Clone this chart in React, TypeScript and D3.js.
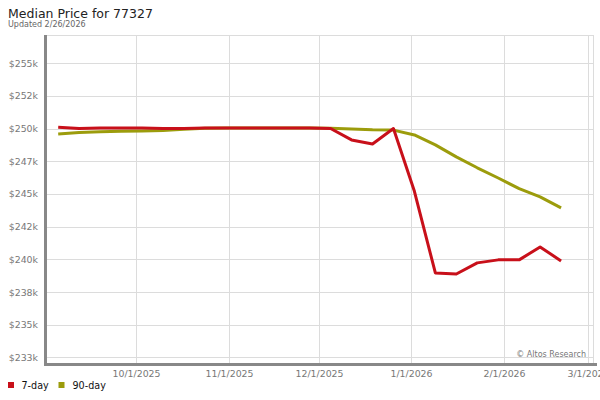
import React from "react";
import * as d3 from "d3";

const dates: string[] = [
  "2025-09-05", "2025-09-12", "2025-09-19", "2025-09-26", "2025-10-03",
  "2025-10-10", "2025-10-17", "2025-10-24", "2025-10-31", "2025-11-07",
  "2025-11-14", "2025-11-21", "2025-11-28", "2025-12-05", "2025-12-12",
  "2025-12-19", "2025-12-26", "2026-01-02", "2026-01-09", "2026-01-16",
  "2026-01-23", "2026-01-30", "2026-02-06", "2026-02-13", "2026-02-20",
];

const sevenDay: number[] = [
  250100, 250000, 250050, 250050, 250050, 250000, 250000, 250050, 250050, 250050,
  250050, 250050, 250050, 250000, 249130, 248820, 250000, 245200, 238960, 238880,
  239730, 239960, 239960, 240950, 239880,
];

const ninetyDay: number[] = [
  249590, 249700, 249760, 249800, 249820, 249850, 249950, 250020, 250050, 250050,
  250050, 250050, 250050, 250030, 249970, 249900, 249880, 249510, 248750, 247830,
  247000, 246220, 245400, 244770, 243930,
];

const yTickValues: number[] = [255000, 252500, 250000, 247500, 245000, 242500, 240000, 237500, 235000, 232500];
const yTickLabels: string[] = ["$255k", "$252k", "$250k", "$247k", "$245k", "$242k", "$240k", "$238k", "$235k", "$233k"];

const xTickDates: string[] = ["2025-10-01", "2025-11-01", "2025-12-01", "2026-01-01", "2026-02-01", "2026-03-01"];
const xTickLabels: string[] = ["10/1/2025", "11/1/2025", "12/1/2025", "1/1/2026", "2/1/2026", "3/1/2026"];

const parse = (s: string) => {
  const [y, m, d] = s.split("-").map(Number);
  return new Date(y, m - 1, d);
};

const RED = "#c8101a";
const OLIVE = "#9c9c0c";
const FONT = "'DejaVu Sans', Verdana, sans-serif";

export default function App() {
  const W = 600, H = 400;
  const left = 47, right = 593, top = 35, bottom = 364;

  const x = d3
    .scaleTime()
    .domain([new Date(2025, 8, 1, 6, 14), new Date(2026, 2, 2, 16, 0)])
    .range([left, right]);
  const y = d3.scaleLinear().domain([232000, 257150]).range([bottom, top]);

  const pts = dates.map(parse);
  const line = d3
    .line<number>()
    .x((_, i) => x(pts[i]))
    .y((v) => y(v));

  return (
    <svg width={W} height={H} style={{ position: "absolute", left: 0, top: 0, background: "#fff" }} fontFamily={FONT}>
      <rect x={0} y={0} width={W} height={H} fill="#fff" />
      <text x={8} y={18.3} fontSize={12.5} fill="#222">Median Price for 77327</text>
      <text x={8} y={26.5} fontSize={8} fill="#666">Updated 2/26/2026</text>

      {/* frame */}
      <line x1={left} x2={right} y1={top + 0.5} y2={top + 0.5} stroke="#dcdcdc" />
      <line x1={right + 0.5} x2={right + 0.5} y1={top} y2={bottom} stroke="#dcdcdc" />

      {/* horizontal grid */}
      {yTickValues.map((v, i) => (
        <g key={"y" + i}>
          <line x1={left} x2={right} y1={Math.round(y(v)) + 0.5} y2={Math.round(y(v)) + 0.5} stroke="#dcdcdc" />
          <text x={38} y={y(v) + 3.5} fontSize={9.4} fill="#777" textAnchor="end">{yTickLabels[i]}</text>
        </g>
      ))}

      {/* vertical grid */}
      {xTickDates.map((d, i) => {
        const xx = Math.round(x(parse(d))) + 0.5;
        return (
          <g key={"x" + i}>
            <line x1={xx} x2={xx} y1={top} y2={bottom} stroke="#dcdcdc" />
            <text x={xx} y={377} fontSize={9.4} fill="#777" textAnchor="middle">{xTickLabels[i]}</text>
          </g>
        );
      })}

      <text x={586} y={356.5} fontSize={8} fill="#777" textAnchor="end">© Altos Research</text>

      {/* axes */}
      <line x1={45.5} x2={45.5} y1={top} y2={bottom + 1.5} stroke="#888" strokeWidth={3} />
      <line x1={44} x2={597} y1={bottom + 0.5} y2={bottom + 0.5} stroke="#888" strokeWidth={3} />

      {/* series */}
      <path d={line(ninetyDay) || ""} fill="none" stroke={OLIVE} strokeWidth={3} strokeLinejoin="round" />
      <path d={line(sevenDay) || ""} fill="none" stroke={RED} strokeWidth={3} strokeLinejoin="round" />

      {/* legend */}
      <rect x={8} y={382} width={6} height={6} fill={RED} />
      <text x={21.5} y={388.5} fontSize={9.6} fill="#111">7-day</text>
      <rect x={58.5} y={382} width={6} height={6} fill={OLIVE} />
      <text x={72.5} y={388.5} fontSize={9.6} fill="#111">90-day</text>
    </svg>
  );
}
